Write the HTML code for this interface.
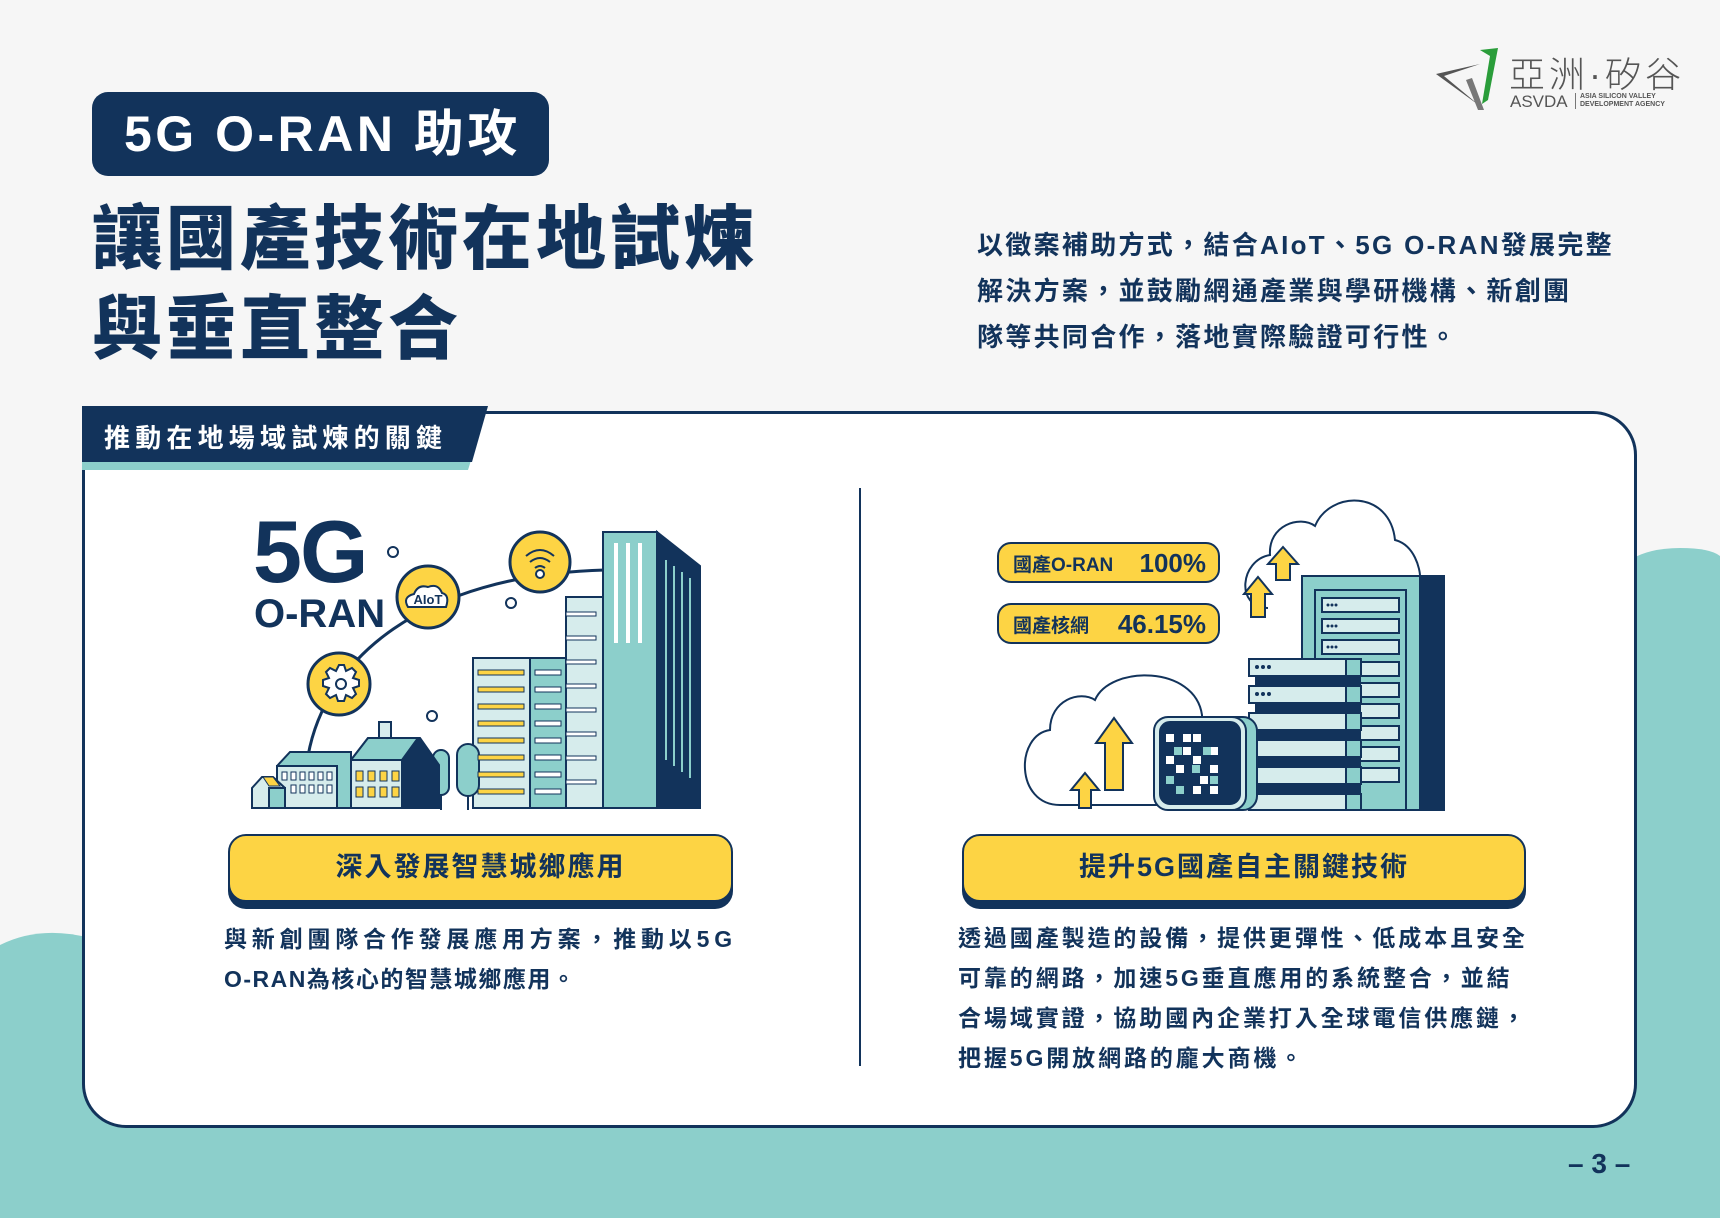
<!DOCTYPE html>
<html><head><meta charset="utf-8">
<style>
*{margin:0;padding:0;box-sizing:border-box}
body{width:1720px;height:1218px;background:#f6f6f6;position:relative;overflow:hidden;font-family:"Liberation Sans","Noto Sans CJK TC",sans-serif;color:#12335b}
.abs{position:absolute}
.badge{left:92px;top:92px;width:457px;height:84px;background:#12335b;border-radius:16px;color:#fff;font-size:50px;font-weight:bold;line-height:84px;padding-left:32px;white-space:nowrap;letter-spacing:3.5px}
.title{left:92px;font-size:70px;font-weight:900;letter-spacing:4px;white-space:nowrap;line-height:1}
.para{left:977px;top:222px;font-size:26px;line-height:46px;font-weight:bold;white-space:nowrap;letter-spacing:2.3px}
.card{left:82px;top:411px;width:1555px;height:717px;background:#fff;border:3px solid #12335b;border-radius:44px}
.btn{height:68px;background:#fdd444;border:2px solid #12335b;border-radius:18px;box-shadow:0 7px 0 #12335b;text-align:center;font-size:27px;font-weight:bold;line-height:62px;letter-spacing:2px}
.txt{font-size:23px;font-weight:bold;line-height:40px;white-space:nowrap;letter-spacing:1px}
</style></head><body>
<svg class="abs" style="left:0;top:0" width="1720" height="1218">
<path d="M0,1100 L1720,1100 L1720,1218 L0,1218Z" fill="#8ccfcb"/>
<path d="M1600,1218 L1600,610 Q1610,548 1680,548 Q1710,548 1720,556 L1720,1218Z" fill="#8ccfcb"/>
<path d="M0,945 Q40,925 90,938 L90,1218 L0,1218Z" fill="#8ccfcb"/>
</svg>

<!-- logo -->
<svg class="abs" style="left:1432px;top:44px" width="72" height="72" viewBox="0 0 72 72">
<path d="M4,30 L48,20 L12,32 L48,62 Z" fill="#555"/>
<path d="M48,6 L66,4 L56,56 L50,60 L58,12Z" fill="#2a9d3a"/>
<path d="M40,34 L52,66 L46,66 L34,36Z" fill="#777"/>
</svg>
<div class="abs" style="left:1509px;top:46px;font-size:36px;color:#555;letter-spacing:4px;white-space:nowrap;font-weight:300">亞洲·矽谷</div>
<div class="abs" style="left:1510px;top:92px;font-size:17px;color:#555;white-space:nowrap">ASVDA</div>
<div class="abs" style="left:1575px;top:93px;width:1px;height:16px;background:#777"></div>
<div class="abs" style="left:1580px;top:93px;font-size:7px;line-height:8px;color:#555;font-weight:bold;white-space:nowrap">ASIA SILICON VALLEY<br>DEVELOPMENT AGENCY</div>

<div class="abs badge">5G O-RAN 助攻</div>
<div class="abs title" style="top:204px">讓國產技術在地試煉</div>
<div class="abs title" style="top:294px">與垂直整合</div>
<div class="abs para">以徵案補助方式，結合AIoT、5G O-RAN發展完整<br>解決方案，並鼓勵網通產業與學研機構、新創團<br>隊等共同合作，落地實際驗證可行性。</div>

<div class="abs card"></div>
<svg class="abs" style="left:80px;top:404px" width="420" height="70">
<path d="M2,2 L408,2 L388,66 L2,66Z" fill="#8ccfcb"/>
<path d="M2,2 L408,2 L392,58 L2,58Z" fill="#12335b"/>
</svg>
<div class="abs" style="left:104px;top:418px;font-size:26px;font-weight:bold;color:#fff;letter-spacing:5.2px;white-space:nowrap">推動在地場域試煉的關鍵</div>
<div class="abs" style="left:859px;top:488px;width:2px;height:578px;background:#12335b"></div>

<!-- left illustration -->
<svg class="abs" style="left:0;top:0" width="860" height="840">
<g stroke="#12335b" stroke-width="3">
<path d="M308,756 C325,660 420,575 605,570" fill="none"/>
<circle cx="393" cy="552" r="5" fill="#fff" stroke-width="2"/>
<circle cx="511" cy="603" r="5" fill="#fff" stroke-width="2"/>
<circle cx="432" cy="716" r="5" fill="#fff" stroke-width="2"/>
<circle cx="339" cy="684" r="31" fill="#fdd444"/>
<circle cx="428" cy="597" r="31" fill="#fdd444"/>
<circle cx="540" cy="562" r="30" fill="#fdd444"/>
</g>
<g stroke="#12335b" stroke-width="2" fill="#fff">
<path d="M339,665 l5,0 2,6 6,-3 4,4 -3,6 6,2 0,6 -6,2 3,6 -4,4 -6,-3 -2,6 -6,0 -2,-6 -6,3 -4,-4 3,-6 -6,-2 0,-6 6,-2 -3,-6 4,-4 6,3Z"/>
<circle cx="341" cy="684" r="5"/>
<path d="M408,607 q-6,-10 6,-13 q4,-10 14,-7 q10,-4 14,6 q8,2 4,14Z"/>
<path d="M526,556 q14,-12 28,0 M530,562 q10,-8 20,0 M535,568 q5,-4 10,0" fill="none"/>
<circle cx="540" cy="574" r="4"/>
</g>
<text x="428" y="604" font-size="13" font-weight="bold" fill="#12335b" text-anchor="middle" font-family="Liberation Sans">AIoT</text>
<text x="253" y="582" font-size="88" font-weight="bold" fill="#12335b" font-family="Liberation Sans" letter-spacing="-2">5G</text>
<text x="254" y="627" font-size="40" font-weight="bold" fill="#12335b" font-family="Liberation Sans">O-RAN</text>
<g stroke="#12335b" stroke-width="2">
<path d="M657,532 L700,566 L700,808 L657,808Z" fill="#12335b"/>
<rect x="603" y="532" width="54" height="276" fill="#8ccfcb"/>
<path d="M616,543v100M628,543v100M640,543v100" stroke="#fff" stroke-width="4"/>
<path d="M666,560v200M674,566v200M682,572v200M690,578v200" stroke="#8ccfcb" stroke-width="2"/>
<rect x="566" y="597" width="37" height="211" fill="#d6ecec"/>
<rect x="473" y="658" width="57" height="150" fill="#d6ecec"/>
<rect x="530" y="658" width="36" height="150" fill="#8ccfcb"/>
<rect x="433" y="750" width="16" height="45" rx="8" fill="#8ccfcb"/>
<rect x="457" y="744" width="22" height="52" rx="11" fill="#8ccfcb"/>
<path d="M441,795v15M468,796v14"/>
<path d="M351,808 L351,760 L368,738 L420,738 L439,765 L439,808Z" fill="#12335b"/>
<path d="M351,808 L351,760 L368,738 L418,738 L402,760 L402,808Z" fill="#8ccfcb"/>
<rect x="351" y="760" width="51" height="48" fill="#d6ecec"/>
<rect x="379" y="722" width="12" height="16" fill="#d6ecec"/>
<path d="M277,808 L277,766 L290,752 L351,752 L351,808Z" fill="#8ccfcb"/>
<rect x="277" y="766" width="60" height="42" fill="#d6ecec"/>
<path d="M252,808 L252,788 L262,777 L273,777 L285,788 L285,808Z" fill="#d6ecec"/>
<rect x="269" y="788" width="16" height="20" fill="#8ccfcb"/>
</g>
<g fill="#fdd444" stroke="#12335b" stroke-width="1">
<rect x="478" y="670" width="46" height="5"/><rect x="478" y="687" width="46" height="5"/><rect x="478" y="704" width="46" height="5"/><rect x="478" y="721" width="46" height="5"/><rect x="478" y="738" width="46" height="5"/><rect x="478" y="755" width="46" height="5"/><rect x="478" y="772" width="46" height="5"/><rect x="478" y="789" width="46" height="5"/>
<rect x="356" y="771" width="7" height="10"/><rect x="368" y="771" width="7" height="10"/><rect x="380" y="771" width="7" height="10"/><rect x="392" y="771" width="7" height="10"/>
<rect x="356" y="787" width="7" height="10"/><rect x="368" y="787" width="7" height="10"/><rect x="380" y="787" width="7" height="10"/><rect x="392" y="787" width="7" height="10"/>
</g>
<g fill="#fff" stroke="#12335b" stroke-width="1">
<rect x="535" y="670" width="26" height="5"/><rect x="535" y="687" width="26" height="5"/><rect x="535" y="704" width="26" height="5"/><rect x="535" y="721" width="26" height="5"/><rect x="535" y="738" width="26" height="5"/><rect x="535" y="755" width="26" height="5"/><rect x="535" y="772" width="26" height="5"/><rect x="535" y="789" width="26" height="5"/>
<rect x="566" y="612" width="30" height="4"/><rect x="566" y="636" width="30" height="4"/><rect x="566" y="660" width="30" height="4"/><rect x="566" y="684" width="30" height="4"/><rect x="566" y="708" width="30" height="4"/><rect x="566" y="732" width="30" height="4"/><rect x="566" y="756" width="30" height="4"/><rect x="566" y="780" width="30" height="4"/>
<rect x="282" y="772" width="5" height="8"/><rect x="291" y="772" width="5" height="8"/><rect x="300" y="772" width="5" height="8"/><rect x="309" y="772" width="5" height="8"/><rect x="318" y="772" width="5" height="8"/><rect x="327" y="772" width="5" height="8"/>
<rect x="291" y="785" width="5" height="8"/><rect x="300" y="785" width="5" height="8"/><rect x="309" y="785" width="5" height="8"/><rect x="318" y="785" width="5" height="8"/><rect x="327" y="785" width="5" height="8"/>
</g>
<path d="M263,777 L273,777 L280,786 L269,786Z" fill="#fdd444" stroke="#12335b"/>
</svg>

<!-- right illustration -->
<svg class="abs" style="left:0;top:0" width="1720" height="840">
<g stroke="#12335b" stroke-width="2">
<path d="M1268,608 C1235,608 1240,560 1270,555 C1268,525 1300,515 1315,526 C1330,490 1390,490 1395,540 C1415,545 1420,570 1420,576" fill="#fff"/>
<rect x="1420" y="576" width="24" height="234" fill="#12335b"/>
<rect x="1302" y="576" width="118" height="234" fill="#8ccfcb"/>
<rect x="1315" y="590" width="91" height="220" fill="#8ccfcb"/>
<g fill="#d6ecec">
<rect x="1322" y="598" width="77" height="14"/><rect x="1322" y="619" width="77" height="14"/><rect x="1322" y="640" width="77" height="14"/><rect x="1322" y="662" width="77" height="14"/><rect x="1322" y="683" width="77" height="14"/><rect x="1322" y="704" width="77" height="14"/><rect x="1322" y="726" width="77" height="14"/><rect x="1322" y="747" width="77" height="14"/><rect x="1322" y="768" width="77" height="14"/>
</g>
<g>
<rect x="1256" y="676" width="104" height="11" fill="#12335b"/><rect x="1256" y="703" width="104" height="11" fill="#12335b"/><rect x="1256" y="730" width="104" height="11" fill="#12335b"/><rect x="1256" y="757" width="104" height="11" fill="#12335b"/><rect x="1256" y="784" width="104" height="11" fill="#12335b"/>
<rect x="1249" y="659" width="97" height="17" fill="#d6ecec"/><rect x="1346" y="659" width="15" height="17" fill="#8ccfcb"/>
<rect x="1249" y="686" width="97" height="17" fill="#d6ecec"/><rect x="1346" y="686" width="15" height="17" fill="#8ccfcb"/>
<rect x="1249" y="713" width="97" height="17" fill="#d6ecec"/><rect x="1346" y="713" width="15" height="17" fill="#8ccfcb"/>
<rect x="1249" y="740" width="97" height="17" fill="#d6ecec"/><rect x="1346" y="740" width="15" height="17" fill="#8ccfcb"/>
<rect x="1249" y="767" width="97" height="17" fill="#d6ecec"/><rect x="1346" y="767" width="15" height="17" fill="#8ccfcb"/>
<rect x="1249" y="794" width="97" height="16" fill="#d6ecec"/><rect x="1346" y="794" width="15" height="16" fill="#8ccfcb"/>
</g>
<path d="M1060,805 C1015,805 1015,735 1050,730 C1050,700 1080,690 1095,700 C1110,665 1195,665 1202,715 L1202,805Z" fill="#fff"/>
<rect x="1160" y="717" width="97" height="93" rx="14" fill="#8ccfcb"/>
<rect x="1154" y="717" width="92" height="93" rx="14" fill="#d6ecec"/>
<rect x="1160" y="722" width="80" height="82" rx="10" fill="#12335b"/>
</g>
<g fill="#12335b"><circle cx="1328" cy="605" r="1.5"/><circle cx="1332" cy="605" r="1.5"/><circle cx="1336" cy="605" r="1.5"/><circle cx="1328" cy="626" r="1.5"/><circle cx="1332" cy="626" r="1.5"/><circle cx="1336" cy="626" r="1.5"/><circle cx="1328" cy="647" r="1.5"/><circle cx="1332" cy="647" r="1.5"/><circle cx="1336" cy="647" r="1.5"/>
<circle cx="1257" cy="667" r="2"/><circle cx="1263" cy="667" r="2"/><circle cx="1269" cy="667" r="2"/><circle cx="1257" cy="694" r="2"/><circle cx="1263" cy="694" r="2"/><circle cx="1269" cy="694" r="2"/></g>
<g fill="#fff"><rect x="1166" y="734" width="8" height="8"/><rect x="1183" y="734" width="8" height="8"/><rect x="1193" y="734" width="8" height="8"/><rect x="1183" y="747" width="8" height="8"/><rect x="1210" y="747" width="8" height="8"/><rect x="1166" y="756" width="8" height="8"/><rect x="1193" y="756" width="8" height="8"/><rect x="1176" y="765" width="8" height="8"/><rect x="1210" y="765" width="8" height="8"/><rect x="1200" y="776" width="8" height="8"/><rect x="1193" y="786" width="8" height="8"/><rect x="1210" y="786" width="8" height="8"/></g>
<g fill="#8ccfcb"><rect x="1174" y="747" width="8" height="8"/><rect x="1203" y="747" width="8" height="8"/><rect x="1192" y="765" width="8" height="8"/><rect x="1166" y="776" width="8" height="8"/><rect x="1210" y="776" width="8" height="8"/><rect x="1176" y="786" width="8" height="8"/></g>
<g fill="#fdd444" stroke="#12335b" stroke-width="2">
<path d="M1114,718 L1132,743 L1123,743 L1123,790 L1105,790 L1105,743 L1096,743Z"/>
<path d="M1085,773 L1099,790 L1091,790 L1091,808 L1079,808 L1079,790 L1071,790Z"/>
<path d="M1283,547 L1298,564 L1290,564 L1290,580 L1276,580 L1276,564 L1268,564Z"/>
<path d="M1258,577 L1272,594 L1265,594 L1265,617 L1251,617 L1251,594 L1244,594Z"/>
<rect x="998" y="543" width="221" height="39" rx="13"/>
<rect x="998" y="604" width="221" height="39" rx="13"/>
</g>
<text x="1013" y="571" font-size="19" font-weight="bold" fill="#12335b" font-family="Liberation Sans,Noto Sans CJK TC,sans-serif">國產O-RAN</text>
<text x="1206" y="572" font-size="26" font-weight="bold" fill="#12335b" text-anchor="end" font-family="Liberation Sans">100%</text>
<text x="1013" y="632" font-size="19" font-weight="bold" fill="#12335b" font-family="Liberation Sans,Noto Sans CJK TC,sans-serif">國產核網</text>
<text x="1206" y="633" font-size="26" font-weight="bold" fill="#12335b" text-anchor="end" font-family="Liberation Sans">46.15%</text>
</svg>

<div class="abs btn" style="left:228px;top:834px;width:505px">深入發展智慧城鄉應用</div>
<div class="abs btn" style="left:962px;top:834px;width:564px">提升5G國產自主關鍵技術</div>
<div class="abs txt" style="left:224px;top:919px;letter-spacing:4.8px">與新創團隊合作發展應用方案，推動以5G</div>
<div class="abs txt" style="left:224px;top:959px;letter-spacing:1.5px">O-RAN為核心的智慧城鄉應用。</div>
<div class="abs txt" style="left:958px;top:918px;line-height:40px;letter-spacing:2.9px">透過國產製造的設備，提供更彈性、低成本且安全<br>可靠的網路，加速5G垂直應用的系統整合，並結<br>合場域實證，協助國內企業打入全球電信供應鏈，<br>把握5G開放網路的龐大商機。</div>
<div class="abs" style="left:1568px;top:1148px;font-size:28px;font-weight:bold;white-space:nowrap">– 3 –</div>
</body></html>
